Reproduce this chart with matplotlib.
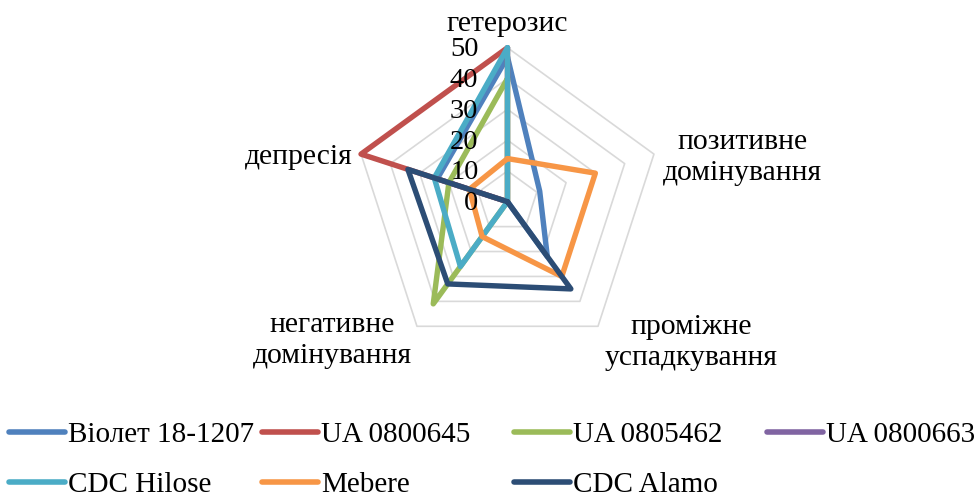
import numpy as np
import matplotlib.pyplot as plt
from matplotlib.lines import Line2D

plt.rcParams['font.family'] = ['Liberation Serif', 'DejaVu Serif']

categories = ['гетерозис', 'позитивне\nдомінування', 'проміжне\nуспадкування',
              'негативне\nдомінування', 'депресія']
series_names = ['Віолет 18-1207', 'UA 0800645', 'UA 0805462', 'UA 0800663',
                'CDC Hilose', 'Mebere', 'CDC Alamo']
violet = [47, 11, 22, 0, 24]
ua645 = [50, 0, 0, 0, 50]
ua462 = [40, 0, 0, 41, 20]
ua663 = [0, 0, 0, 0, 0]
hilose = [50, 0, 0, 26, 25]
mebere = [14, 30, 30, 14, 13]
alamo = [0, 0, 35, 33, 34]
ticks = [0, 10, 20, 30, 40, 50]

colors = ['#4F81BD', '#C0504D', '#9BBB59', '#8064A2', '#4BACC6', '#F79646', '#2C4D75']
values = [violet, ua645, ua462, ua663, hilose, mebere, alamo]

fig = plt.figure(figsize=(9.78, 5), dpi=100)
# polar axes centred at (507, 202) px, radius 154 px
ax = fig.add_axes([0.5189 - 0.1575, 0.5966 - 0.308, 0.315, 0.616], projection='polar')
ax.set_theta_zero_location('N')
ax.set_theta_direction(-1)
ax.set_ylim(0, 50)
ax.grid(False)
ax.set_xticks([])
ax.set_yticks([])
ax.spines['polar'].set_visible(False)
ax.patch.set_visible(False)

n = len(categories)
ang = np.linspace(0, 2 * np.pi, n, endpoint=False)
ang_c = np.append(ang, ang[0])

# pentagon grid
for t in ticks[1:]:
    ax.plot(ang_c, [t] * (n + 1), color='#D9D9D9', lw=1.2, clip_on=False, zorder=1)

for name, vals, c in zip(series_names, values, colors):
    ax.plot(ang_c, vals + vals[:1], color=c, lw=3.9, label=name,
            solid_joinstyle='round', solid_capstyle='round', clip_on=False, zorder=3)

# radial value labels
for t in ticks:
    ax.annotate(str(t), xy=(0, t), xytext=(-29, -2), textcoords='offset pixels',
                ha='right', va='center', fontsize=20.5)

# category labels
offsets = [(0, 24, 'center', 'center'), (9, -3, 'left', 'center'),
           (7, -16, 'left', 'center'), (-5, -14, 'right', 'center'),
           (-8, -3, 'right', 'center')]
for a, lab, (dx, dy, ha, va) in zip(ang, categories, offsets):
    ax.annotate(lab, xy=(a, 50), xytext=(dx, dy), textcoords='offset pixels',
                ha=ha, va=va, fontsize=21.3, multialignment='center', linespacing=1.25,
                annotation_clip=False)

# legend, one block per column
handles = [Line2D([], [], color=c, lw=4, solid_capstyle='round') for c in colors]
columns = [[0, 4], [1, 5], [2, 6], [3]]
col_x = [9, 262, 514, 767]
for idx, x in zip(columns, col_x):
    fig.legend([handles[i] for i in idx], [series_names[i] for i in idx],
               loc='upper left', bbox_to_anchor=(x / 978, 1 - 422 / 500),
               frameon=False, fontsize=21, handlelength=1.92, handletextpad=0.1,
               labelspacing=0.8, borderpad=0, borderaxespad=0)

fig.savefig('out.png', dpi=100)
